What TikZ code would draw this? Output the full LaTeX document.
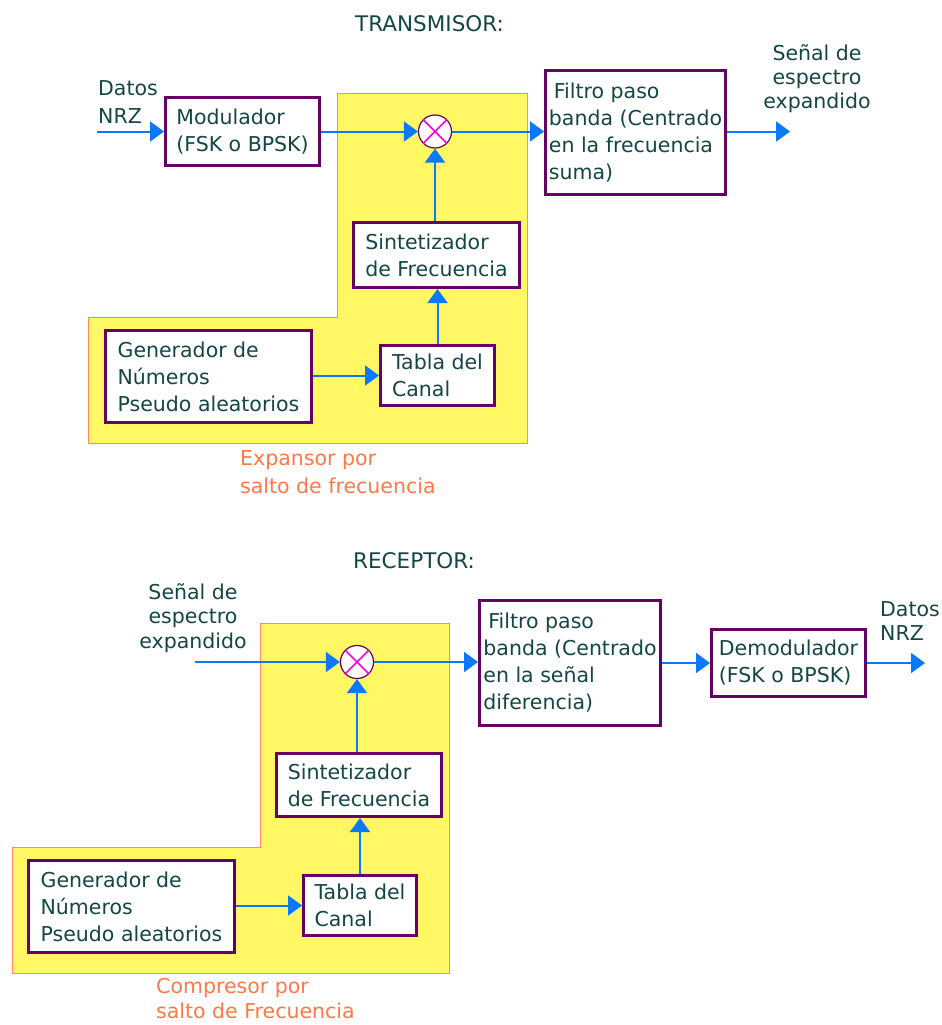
\documentclass[tikz,border=0pt]{standalone}
\usepackage{fontspec}
\setmainfont{DejaVu Sans}
\usetikzlibrary{arrows.meta}
\definecolor{txt}{RGB}{20,70,70}
\definecolor{bord}{RGB}{102,0,102}
\definecolor{arrc}{RGB}{10,120,255}
\definecolor{yel}{RGB}{255,248,100}
\definecolor{yelb}{RGB}{255,140,100}
\definecolor{orng}{RGB}{255,120,70}
\definecolor{mag}{RGB}{255,0,220}
\begin{document}
\begin{tikzpicture}[x=1pt,y=-1pt,
  every node/.style={font=\fontsize{20.5}{27}\selectfont, text=txt},
  box/.style={draw=bord, line width=3pt, fill=white, align=left, inner sep=0pt},
  arr/.style={draw=arrc, line width=2pt, -{Triangle[length=14pt,width=20pt]}},
  region/.style={fill=yel, draw=yelb, line width=1pt},
  mixer/.style={circle, draw=bord, line width=1.2pt, fill=white, minimum size=33pt, inner sep=0pt},
  cross/.style={draw=mag, line width=1.6pt},
  lbl/.style={inner sep=0pt, align=left},
  lblc/.style={inner sep=0pt, align=center}]
\useasboundingbox (0,0) rectangle (942,1025);

% ---------------- TRANSMISOR ----------------
\node[lbl, anchor=base west, font=\fontsize{21.5}{27}\selectfont] (t1) at (355,32) {TRANSMISOR:};
\draw[region] (337,93) -- (527,93) -- (527,443) -- (88,443) -- (88,317) -- (337,317) -- cycle;

\node[box, minimum width=154pt, minimum height=68pt] (mod) at (242.5,131.5) {Modulador\\(FSK o BPSK)};
\node[box, minimum width=180pt, minimum height=124pt] (filt1) at (635.5,132.5) {\hspace{5pt}Filtro paso\\banda (Centrado\\en la frecuencia\\suma)};
\node[box, minimum width=166pt, minimum height=65pt] (sint1) at (436.5,255) {Sintetizador\\de Frecuencia};
\node[box, minimum width=114pt, minimum height=60pt] (tabla1) at (437.5,375.5) {Tabla del\\Canal};
\node[box, minimum width=206pt, minimum height=92pt] (gen1) at (208.5,376.5) {Generador de\\Números\\Pseudo aleatorios};
\node[mixer] (mix1) at (435,131.5) {};
\draw[cross] (mix1.north east) -- (mix1.south west) (mix1.north west) -- (mix1.south east);

\node[lbl, anchor=base west, font=\fontsize{20.5}{28}\selectfont] (datos1) at (98,123) {Datos\\NRZ};
\node[lblc, anchor=base, font=\fontsize{20.5}{24}\selectfont] (sen1) at (817,108) {Señal de\\espectro\\expandido};
\node[lbl, anchor=base west, text=orng, font=\fontsize{20.5}{28}\selectfont] (exp) at (240,493) {Expansor por\\salto de frecuencia};

\coordinate (in1) at (97,131.5);
\coordinate (out1) at (790,131.5);
\draw[arr] (in1) -- (mod.west);
\draw[arr] (mod.east) -- (mix1.west);
\draw[arr] (mix1.east) -- (mix1.east -| filt1.west);
\draw[arr] (mix1.east -| filt1.east) -- (out1);
\draw[arr] (mix1.south |- sint1.north) -- (mix1.south);
\draw[arr] (tabla1.north) -- (tabla1.north |- sint1.south);
\draw[arr] (gen1.east |- tabla1.west) -- (tabla1.west);

% ---------------- RECEPTOR ----------------
\node[lbl, anchor=base west, font=\fontsize{21.5}{27}\selectfont] (t2) at (353,568) {RECEPTOR:};
\draw[region] (260,623) -- (449,623) -- (449,973) -- (12,973) -- (12,847) -- (260,847) -- cycle;

\node[box, minimum width=181pt, minimum height=125pt] (filt2) at (570,663) {\hspace{5pt}Filtro paso\\banda (Centrado\\en la señal\\diferencia)};
\node[box, minimum width=154pt, minimum height=67pt] (dem) at (788.5,663) {Demodulador\\(FSK o BPSK)};
\node[box, minimum width=165pt, minimum height=63pt] (sint2) at (359,785) {Sintetizador\\de Frecuencia};
\node[box, minimum width=113pt, minimum height=60pt] (tabla2) at (360,905.5) {Tabla del\\Canal};
\node[box, minimum width=206pt, minimum height=92pt] (gen2) at (131.5,906.5) {Generador de\\Números\\Pseudo aleatorios};
\node[mixer] (mix2) at (357,662) {};
\draw[cross] (mix2.north east) -- (mix2.south west) (mix2.north west) -- (mix2.south east);

\node[lblc, anchor=base, font=\fontsize{20.5}{24.5}\selectfont] (sen2) at (193,648) {Señal de\\espectro\\expandido};
\node[lbl, anchor=base west, font=\fontsize{20.5}{24}\selectfont] (datos2) at (880,640) {Datos\\NRZ};
\node[lbl, anchor=base west, text=orng, font=\fontsize{20.5}{25}\selectfont] (comp) at (156,1018) {Compresor por\\salto de Frecuencia};

\coordinate (in2) at (195,662);
\coordinate (out2) at (925,663);
\draw[arr] (in2) -- (mix2.west);
\draw[arr] (mix2.east) -- (mix2.east -| filt2.west);
\draw[arr] (filt2.east |- dem.west) -- (dem.west);
\draw[arr] (dem.east) -- (out2);
\draw[arr] (mix2.south |- sint2.north) -- (mix2.south);
\draw[arr] (tabla2.north) -- (tabla2.north |- sint2.south);
\draw[arr] (gen2.east |- tabla2.west) -- (tabla2.west);
\end{tikzpicture}
\end{document}
